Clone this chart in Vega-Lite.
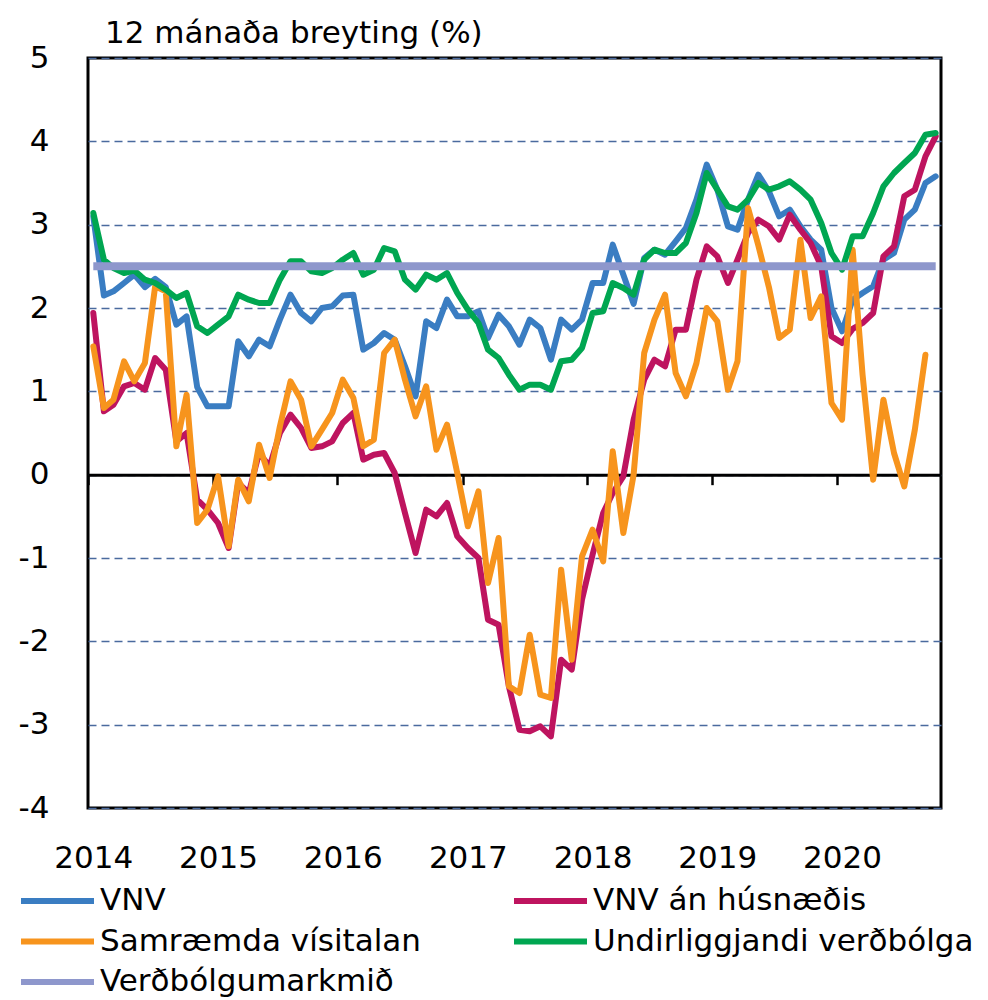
{
  "$schema": "https://vega.github.io/schema/vega-lite/v6.json",
  "autosize": {"type": "none"},
  "width": 853,
  "height": 750,
  "padding": {"left": 88, "top": 58, "right": 47, "bottom": 192},
  "background": "white",
  "title": {"text": "12 mánaða breyting (%)", "anchor": "start", "frame": "group", "font": "DejaVu Sans", "fontSize": 31, "fontWeight": "normal", "color": "black", "dx": 17, "dy": 47, "offset": 15, "baseline": "alphabetic"},
  "data": {"values": [
    {"d":"2014/01/01","VNV":3.1,"VNV án húsnæðis":1.94,"Samræmda vísitalan":1.54,"Undirliggjandi verðbólga":3.14,"Verðbólgumarkmið":2.5},
    {"d":"2014/02/01","VNV":2.15,"VNV án húsnæðis":0.76,"Samræmda vísitalan":0.8,"Undirliggjandi verðbólga":2.58,"Verðbólgumarkmið":2.5},
    {"d":"2014/03/01","VNV":2.2,"VNV án húsnæðis":0.84,"Samræmda vísitalan":0.9,"Undirliggjandi verðbólga":2.48,"Verðbólgumarkmið":2.5},
    {"d":"2014/04/01","VNV":2.3,"VNV án húsnæðis":1.06,"Samræmda vísitalan":1.36,"Undirliggjandi verðbólga":2.42,"Verðbólgumarkmið":2.5},
    {"d":"2014/05/01","VNV":2.4,"VNV án húsnæðis":1.1,"Samræmda vísitalan":1.12,"Undirliggjandi verðbólga":2.45,"Verðbólgumarkmið":2.5},
    {"d":"2014/06/01","VNV":2.25,"VNV án húsnæðis":1.02,"Samræmda vísitalan":1.34,"Undirliggjandi verðbólga":2.34,"Verðbólgumarkmið":2.5},
    {"d":"2014/07/01","VNV":2.35,"VNV án húsnæðis":1.4,"Samræmda vísitalan":2.26,"Undirliggjandi verðbólga":2.3,"Verðbólgumarkmið":2.5},
    {"d":"2014/08/01","VNV":2.25,"VNV án húsnæðis":1.26,"Samræmda vísitalan":2.2,"Undirliggjandi verðbólga":2.22,"Verðbólgumarkmið":2.5},
    {"d":"2014/09/01","VNV":1.8,"VNV án húsnæðis":0.4,"Samræmda vísitalan":0.34,"Undirliggjandi verðbólga":2.12,"Verðbólgumarkmið":2.5},
    {"d":"2014/10/01","VNV":1.9,"VNV án húsnæðis":0.5,"Samræmda vísitalan":0.96,"Undirliggjandi verðbólga":2.18,"Verðbólgumarkmið":2.5},
    {"d":"2014/11/01","VNV":1.05,"VNV án húsnæðis":-0.3,"Samræmda vísitalan":-0.58,"Undirliggjandi verðbólga":1.78,"Verðbólgumarkmið":2.5},
    {"d":"2014/12/01","VNV":0.82,"VNV án húsnæðis":-0.42,"Samræmda vísitalan":-0.42,"Undirliggjandi verðbólga":1.7,"Verðbólgumarkmið":2.5},
    {"d":"2015/01/01","VNV":0.82,"VNV án húsnæðis":-0.58,"Samræmda vísitalan":-0.02,"Undirliggjandi verðbólga":1.8,"Verðbólgumarkmið":2.5},
    {"d":"2015/02/01","VNV":0.82,"VNV án húsnæðis":-0.88,"Samræmda vísitalan":-0.86,"Undirliggjandi verðbólga":1.9,"Verðbólgumarkmið":2.5},
    {"d":"2015/03/01","VNV":1.6,"VNV án húsnæðis":-0.1,"Samræmda vísitalan":-0.06,"Undirliggjandi verðbólga":2.16,"Verðbólgumarkmið":2.5},
    {"d":"2015/04/01","VNV":1.42,"VNV án húsnæðis":-0.22,"Samræmda vísitalan":-0.32,"Undirliggjandi verðbólga":2.1,"Verðbólgumarkmið":2.5},
    {"d":"2015/05/01","VNV":1.62,"VNV án húsnæðis":0.26,"Samræmda vísitalan":0.36,"Undirliggjandi verðbólga":2.06,"Verðbólgumarkmið":2.5},
    {"d":"2015/06/01","VNV":1.54,"VNV án húsnæðis":0.1,"Samræmda vísitalan":-0.04,"Undirliggjandi verðbólga":2.06,"Verðbólgumarkmið":2.5},
    {"d":"2015/07/01","VNV":1.86,"VNV án húsnæðis":0.5,"Samræmda vísitalan":0.58,"Undirliggjandi verðbólga":2.34,"Verðbólgumarkmið":2.5},
    {"d":"2015/08/01","VNV":2.16,"VNV án húsnæðis":0.72,"Samræmda vísitalan":1.12,"Undirliggjandi verðbólga":2.56,"Verðbólgumarkmið":2.5},
    {"d":"2015/09/01","VNV":1.94,"VNV án húsnæðis":0.56,"Samræmda vísitalan":0.9,"Undirliggjandi verðbólga":2.56,"Verðbólgumarkmið":2.5},
    {"d":"2015/10/01","VNV":1.84,"VNV án húsnæðis":0.32,"Samræmda vísitalan":0.34,"Undirliggjandi verðbólga":2.44,"Verðbólgumarkmið":2.5},
    {"d":"2015/11/01","VNV":2.0,"VNV án húsnæðis":0.34,"Samræmda vísitalan":0.54,"Undirliggjandi verðbólga":2.42,"Verðbólgumarkmið":2.5},
    {"d":"2015/12/01","VNV":2.02,"VNV án húsnæðis":0.4,"Samræmda vísitalan":0.74,"Undirliggjandi verðbólga":2.48,"Verðbólgumarkmið":2.5},
    {"d":"2016/01/01","VNV":2.15,"VNV án húsnæðis":0.62,"Samræmda vísitalan":1.14,"Undirliggjandi verðbólga":2.58,"Verðbólgumarkmið":2.5},
    {"d":"2016/02/01","VNV":2.16,"VNV án húsnæðis":0.74,"Samræmda vísitalan":0.92,"Undirliggjandi verðbólga":2.66,"Verðbólgumarkmið":2.5},
    {"d":"2016/03/01","VNV":1.5,"VNV án húsnæðis":0.18,"Samræmda vísitalan":0.34,"Undirliggjandi verðbólga":2.4,"Verðbólgumarkmið":2.5},
    {"d":"2016/04/01","VNV":1.58,"VNV án húsnæðis":0.24,"Samræmda vísitalan":0.42,"Undirliggjandi verðbólga":2.46,"Verðbólgumarkmið":2.5},
    {"d":"2016/05/01","VNV":1.7,"VNV án húsnæðis":0.26,"Samræmda vísitalan":1.46,"Undirliggjandi verðbólga":2.72,"Verðbólgumarkmið":2.5},
    {"d":"2016/06/01","VNV":1.62,"VNV án húsnæðis":0.02,"Samræmda vísitalan":1.62,"Undirliggjandi verðbólga":2.68,"Verðbólgumarkmið":2.5},
    {"d":"2016/07/01","VNV":1.3,"VNV án húsnæðis":-0.46,"Samræmda vísitalan":1.14,"Undirliggjandi verðbólga":2.34,"Verðbólgumarkmið":2.5},
    {"d":"2016/08/01","VNV":0.94,"VNV án húsnæðis":-0.94,"Samræmda vísitalan":0.7,"Undirliggjandi verðbólga":2.22,"Verðbólgumarkmið":2.5},
    {"d":"2016/09/01","VNV":1.84,"VNV án húsnæðis":-0.42,"Samræmda vísitalan":1.06,"Undirliggjandi verðbólga":2.4,"Verðbólgumarkmið":2.5},
    {"d":"2016/10/01","VNV":1.76,"VNV án húsnæðis":-0.5,"Samræmda vísitalan":0.3,"Undirliggjandi verðbólga":2.34,"Verðbólgumarkmið":2.5},
    {"d":"2016/11/01","VNV":2.1,"VNV án húsnæðis":-0.34,"Samræmda vísitalan":0.6,"Undirliggjandi verðbólga":2.42,"Verðbólgumarkmið":2.5},
    {"d":"2016/12/01","VNV":1.9,"VNV án húsnæðis":-0.74,"Samræmda vísitalan":0.02,"Undirliggjandi verðbólga":2.18,"Verðbólgumarkmið":2.5},
    {"d":"2017/01/01","VNV":1.9,"VNV án húsnæðis":-0.88,"Samræmda vísitalan":-0.62,"Undirliggjandi verðbólga":1.98,"Verðbólgumarkmið":2.5},
    {"d":"2017/02/01","VNV":1.96,"VNV án húsnæðis":-1.0,"Samræmda vísitalan":-0.2,"Undirliggjandi verðbólga":1.82,"Verðbólgumarkmið":2.5},
    {"d":"2017/03/01","VNV":1.64,"VNV án húsnæðis":-1.74,"Samræmda vísitalan":-1.3,"Undirliggjandi verðbólga":1.5,"Verðbólgumarkmið":2.5},
    {"d":"2017/04/01","VNV":1.92,"VNV án húsnæðis":-1.8,"Samræmda vísitalan":-0.76,"Undirliggjandi verðbólga":1.4,"Verðbólgumarkmið":2.5},
    {"d":"2017/05/01","VNV":1.78,"VNV án húsnæðis":-2.54,"Samræmda vísitalan":-2.54,"Undirliggjandi verðbólga":1.2,"Verðbólgumarkmið":2.5},
    {"d":"2017/06/01","VNV":1.56,"VNV án húsnæðis":-3.06,"Samræmda vísitalan":-2.62,"Undirliggjandi verðbólga":1.02,"Verðbólgumarkmið":2.5},
    {"d":"2017/07/01","VNV":1.86,"VNV án húsnæðis":-3.08,"Samræmda vísitalan":-1.92,"Undirliggjandi verðbólga":1.08,"Verðbólgumarkmið":2.5},
    {"d":"2017/08/01","VNV":1.76,"VNV án húsnæðis":-3.02,"Samræmda vísitalan":-2.64,"Undirliggjandi verðbólga":1.08,"Verðbólgumarkmið":2.5},
    {"d":"2017/09/01","VNV":1.38,"VNV án húsnæðis":-3.14,"Samræmda vísitalan":-2.68,"Undirliggjandi verðbólga":1.02,"Verðbólgumarkmið":2.5},
    {"d":"2017/10/01","VNV":1.86,"VNV án húsnæðis":-2.22,"Samræmda vísitalan":-1.14,"Undirliggjandi verðbólga":1.36,"Verðbólgumarkmið":2.5},
    {"d":"2017/11/01","VNV":1.74,"VNV án húsnæðis":-2.34,"Samræmda vísitalan":-2.22,"Undirliggjandi verðbólga":1.38,"Verðbólgumarkmið":2.5},
    {"d":"2017/12/01","VNV":1.86,"VNV án húsnæðis":-1.5,"Samræmda vísitalan":-0.98,"Undirliggjandi verðbólga":1.52,"Verðbólgumarkmið":2.5},
    {"d":"2018/01/01","VNV":2.3,"VNV án húsnæðis":-0.96,"Samræmda vísitalan":-0.66,"Undirliggjandi verðbólga":1.94,"Verðbólgumarkmið":2.5},
    {"d":"2018/02/01","VNV":2.3,"VNV án húsnæðis":-0.46,"Samræmda vísitalan":-1.04,"Undirliggjandi verðbólga":1.96,"Verðbólgumarkmið":2.5},
    {"d":"2018/03/01","VNV":2.76,"VNV án húsnæðis":-0.22,"Samræmda vísitalan":0.28,"Undirliggjandi verðbólga":2.3,"Verðbólgumarkmið":2.5},
    {"d":"2018/04/01","VNV":2.4,"VNV án húsnæðis":-0.02,"Samræmda vísitalan":-0.7,"Undirliggjandi verðbólga":2.24,"Verðbólgumarkmið":2.5},
    {"d":"2018/05/01","VNV":2.05,"VNV án húsnæðis":0.66,"Samræmda vísitalan":0.0,"Undirliggjandi verðbólga":2.16,"Verðbólgumarkmið":2.5},
    {"d":"2018/06/01","VNV":2.6,"VNV án húsnæðis":1.14,"Samræmda vísitalan":1.46,"Undirliggjandi verðbólga":2.58,"Verðbólgumarkmið":2.5},
    {"d":"2018/07/01","VNV":2.7,"VNV án húsnæðis":1.38,"Samræmda vísitalan":1.86,"Undirliggjandi verðbólga":2.7,"Verðbólgumarkmið":2.5},
    {"d":"2018/08/01","VNV":2.64,"VNV án húsnæðis":1.3,"Samræmda vísitalan":2.16,"Undirliggjandi verðbólga":2.66,"Verðbólgumarkmið":2.5},
    {"d":"2018/09/01","VNV":2.8,"VNV án húsnæðis":1.74,"Samræmda vísitalan":1.22,"Undirliggjandi verðbólga":2.66,"Verðbólgumarkmið":2.5},
    {"d":"2018/10/01","VNV":2.96,"VNV án húsnæðis":1.74,"Samræmda vísitalan":0.94,"Undirliggjandi verðbólga":2.78,"Verðbólgumarkmið":2.5},
    {"d":"2018/11/01","VNV":3.3,"VNV án húsnæðis":2.34,"Samræmda vísitalan":1.34,"Undirliggjandi verðbólga":3.14,"Verðbólgumarkmið":2.5},
    {"d":"2018/12/01","VNV":3.72,"VNV án húsnæðis":2.74,"Samræmda vísitalan":2.0,"Undirliggjandi verðbólga":3.62,"Verðbólgumarkmið":2.5},
    {"d":"2019/01/01","VNV":3.42,"VNV án húsnæðis":2.62,"Samræmda vísitalan":1.84,"Undirliggjandi verðbólga":3.42,"Verðbólgumarkmið":2.5},
    {"d":"2019/02/01","VNV":2.98,"VNV án húsnæðis":2.3,"Samræmda vísitalan":1.02,"Undirliggjandi verðbólga":3.22,"Verðbólgumarkmið":2.5},
    {"d":"2019/03/01","VNV":2.94,"VNV án húsnæðis":2.58,"Samræmda vísitalan":1.36,"Undirliggjandi verðbólga":3.18,"Verðbólgumarkmið":2.5},
    {"d":"2019/04/01","VNV":3.3,"VNV án húsnæðis":2.9,"Samræmda vísitalan":3.2,"Undirliggjandi verðbólga":3.3,"Verðbólgumarkmið":2.5},
    {"d":"2019/05/01","VNV":3.6,"VNV án húsnæðis":3.06,"Samræmda vísitalan":2.75,"Undirliggjandi verðbólga":3.5,"Verðbólgumarkmið":2.5},
    {"d":"2019/06/01","VNV":3.4,"VNV án húsnæðis":2.98,"Samræmda vísitalan":2.25,"Undirliggjandi verðbólga":3.42,"Verðbólgumarkmið":2.5},
    {"d":"2019/07/01","VNV":3.1,"VNV án húsnæðis":2.82,"Samræmda vísitalan":1.64,"Undirliggjandi verðbólga":3.46,"Verðbólgumarkmið":2.5},
    {"d":"2019/08/01","VNV":3.18,"VNV án húsnæðis":3.12,"Samræmda vísitalan":1.74,"Undirliggjandi verðbólga":3.52,"Verðbólgumarkmið":2.5},
    {"d":"2019/09/01","VNV":2.98,"VNV án húsnæðis":2.94,"Samræmda vísitalan":2.82,"Undirliggjandi verðbólga":3.42,"Verðbólgumarkmið":2.5},
    {"d":"2019/10/01","VNV":2.82,"VNV án húsnæðis":2.78,"Samræmda vísitalan":1.88,"Undirliggjandi verðbólga":3.3,"Verðbólgumarkmið":2.5},
    {"d":"2019/11/01","VNV":2.7,"VNV án húsnæðis":2.5,"Samræmda vísitalan":2.14,"Undirliggjandi verðbólga":3.02,"Verðbólgumarkmið":2.5},
    {"d":"2019/12/01","VNV":2.0,"VNV án húsnæðis":1.66,"Samræmda vísitalan":0.86,"Undirliggjandi verðbólga":2.66,"Verðbólgumarkmið":2.5},
    {"d":"2020/01/01","VNV":1.72,"VNV án húsnæðis":1.58,"Samræmda vísitalan":0.66,"Undirliggjandi verðbólga":2.46,"Verðbólgumarkmið":2.5},
    {"d":"2020/02/01","VNV":2.1,"VNV án húsnæðis":1.75,"Samræmda vísitalan":2.7,"Undirliggjandi verðbólga":2.86,"Verðbólgumarkmið":2.5},
    {"d":"2020/03/01","VNV":2.18,"VNV án húsnæðis":1.82,"Samræmda vísitalan":1.2,"Undirliggjandi verðbólga":2.86,"Verðbólgumarkmið":2.5},
    {"d":"2020/04/01","VNV":2.26,"VNV án húsnæðis":1.94,"Samræmda vísitalan":-0.06,"Undirliggjandi verðbólga":3.14,"Verðbólgumarkmið":2.5},
    {"d":"2020/05/01","VNV":2.58,"VNV án húsnæðis":2.62,"Samræmda vísitalan":0.9,"Undirliggjandi verðbólga":3.46,"Verðbólgumarkmið":2.5},
    {"d":"2020/06/01","VNV":2.66,"VNV án húsnæðis":2.74,"Samræmda vísitalan":0.26,"Undirliggjandi verðbólga":3.62,"Verðbólgumarkmið":2.5},
    {"d":"2020/07/01","VNV":3.06,"VNV án húsnæðis":3.34,"Samræmda vísitalan":-0.14,"Undirliggjandi verðbólga":3.74,"Verðbólgumarkmið":2.5},
    {"d":"2020/08/01","VNV":3.18,"VNV án húsnæðis":3.42,"Samræmda vísitalan":0.54,"Undirliggjandi verðbólga":3.86,"Verðbólgumarkmið":2.5},
    {"d":"2020/09/01","VNV":3.5,"VNV án húsnæðis":3.82,"Samræmda vísitalan":1.44,"Undirliggjandi verðbólga":4.08,"Verðbólgumarkmið":2.5},
    {"d":"2020/10/01","VNV":3.58,"VNV án húsnæðis":4.06,"Samræmda vísitalan":null,"Undirliggjandi verðbólga":4.1,"Verðbólgumarkmið":2.5}
  ]},
  "transform": [
    {"fold": ["VNV", "VNV án húsnæðis", "Samræmda vísitalan", "Undirliggjandi verðbólga", "Verðbólgumarkmið"], "as": ["series", "value"]},
    {"filter": "isValid(datum.value)"}
  ],
  "encoding": {
    "x": {
      "field": "d", "type": "temporal",
      "scale": {"domain": [{"year": 2013, "month": 12, "date": 16, "hours": 12}, {"year": 2020, "month": 10, "date": 16, "hours": 12}]},
      "axis": {
        "title": null, "format": "%Y", "tickCount": {"interval": "year", "step": 1},
        "grid": false, "domain": true, "domainColor": "black", "domainWidth": 3,
        "ticks": true, "tickColor": "black", "tickWidth": 2.5, "tickSize": 10, "tickOffset": -5.3,
        "offset": -333.33, "labelPadding": 359, "labelOffset": 5.3, "labelFlush": false, "labelOverlap": false,
        "labelFont": "DejaVu Sans", "labelFontSize": 31, "labelColor": "black"
      }
    },
    "y": {
      "field": "value", "type": "quantitative",
      "scale": {"domain": [-4, 5], "nice": false, "zero": false},
      "axis": {
        "title": null, "values": [-4, -3, -2, -1, 0, 1, 2, 3, 4, 5],
        "labelExpr": "'' + datum.value",
        "domain": false, "ticks": false, "tickSize": 0, "labelPadding": 39,
        "grid": true, "gridColor": "#4a6a9e", "gridDash": [8, 5], "gridWidth": 1.3,
        "labelFont": "DejaVu Sans", "labelFontSize": 31, "labelColor": "black"
      }
    },
    "color": {
      "field": "series", "type": "nominal",
      "scale": {
        "domain": ["VNV", "VNV án húsnæðis", "Samræmda vísitalan", "Undirliggjandi verðbólga", "Verðbólgumarkmið"],
        "range": ["#3a7dc2", "#be145f", "#f7941d", "#00a651", "#8e97cc"]
      },
      "legend": {
        "title": null, "orient": "none", "direction": "horizontal", "legendX": -70, "legendY": 825, "columns": 2,
        "columnPadding": 90, "rowPadding": 4.5, "clipHeight": 36, "symbolType": "stroke", "symbolSize": 5329,
        "symbolStrokeWidth": 6, "labelFont": "DejaVu Sans", "labelFontSize": 31,
        "labelColor": "black", "labelLimit": 1000, "labelOffset": 3
      }
    }
  },
  "layer": [
    {
      "transform": [{"filter": "datum.series !== 'Verðbólgumarkmið'"}],
      "mark": {"type": "line", "strokeWidth": 6, "strokeCap": "round", "strokeJoin": "round"}
    },
    {
      "transform": [{"filter": "datum.series === 'Verðbólgumarkmið'"}],
      "mark": {"type": "line", "strokeWidth": 8, "strokeCap": "butt"}
    }
  ],
  "config": {
    "view": {"stroke": "black", "strokeWidth": 3}
  }
}
